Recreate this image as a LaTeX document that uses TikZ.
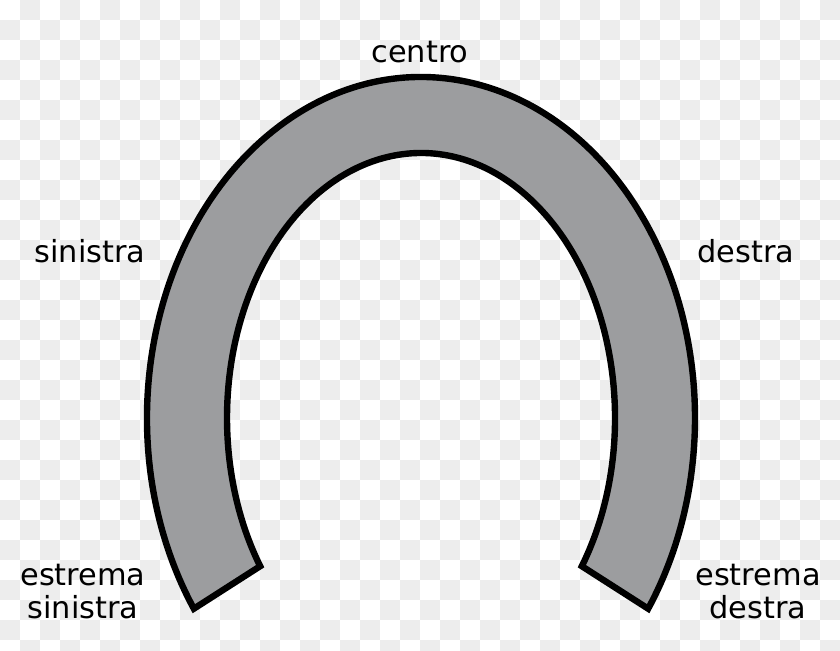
\documentclass[tikz,border=0pt]{standalone}
\usepackage{fontspec}
\setmainfont{DejaVu Sans}
\usetikzlibrary{calc}

\definecolor{ferrogrigio}{RGB}{156,157,159}
\tikzset{etichetta/.style = {font=\fontsize{15.2}{16.5}\selectfont, inner sep=0pt,
                             anchor=base, align=center},
         ferro/.style = {fill=ferrogrigio, draw=black, line width=3.2pt, line join=miter},
         quadretto/.style = {fill=black!7, draw=none}
        }

\begin{document}
\begin{tikzpicture}[x=0.5pt, y=0.5pt]
  \useasboundingbox (0,0) rectangle (840,650);
  % sfondo a scacchi
  \begin{scope}
    \clip (0,0) rectangle (840,650);
    \fill[white] (0,0) rectangle (840,650);
    \foreach \i in {0,...,41}
      \foreach \j in {0,...,32}{
        \pgfmathtruncatemacro{\pari}{mod(\i+\j,2)}
        \ifnum\pari=1
          \fill[quadretto] (20*\i,630-20*\j) rectangle ++(20,20);
        \fi
      }
  \end{scope}
  % ferro di cavallo
  \coordinate (c) at (421,232);
  \draw[ferro] ($(c)+(214:274 and 341)$)
      arc[start angle=214, end angle=-34, x radius=274, y radius=341]
      -- ($(c)+(-34:194 and 265)$)
      arc[start angle=-34, end angle=214, x radius=194, y radius=265]
      -- cycle;
  % etichette
  \node[etichetta] (centro)   at (420,588) {centro};
  \node[etichetta] (sinistra) at (90,388)  {sinistra};
  \node[etichetta] (destra)   at (746,388) {destra};
  \node[etichetta] (estsin)   at (83,32)   {estrema\\sinistra};
  \node[etichetta] (estdes)   at (758,32)  {estrema\\destra};
\end{tikzpicture}
\end{document}
